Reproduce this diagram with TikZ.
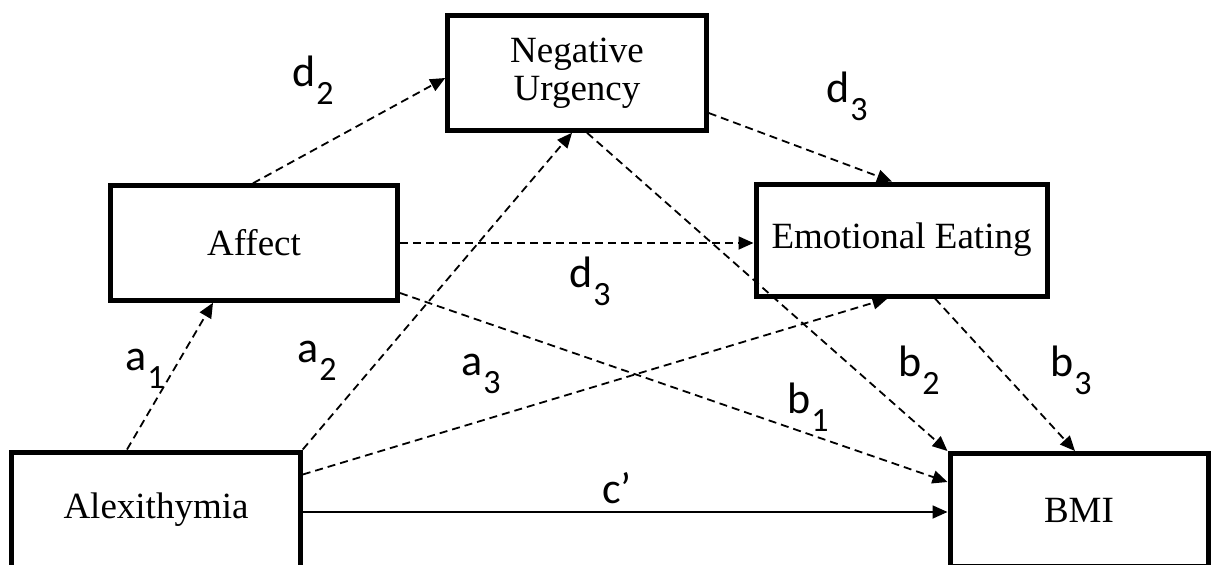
\documentclass[tikz,border=0pt]{standalone}
\usepackage{fontspec}
\setmainfont{Liberation Serif}
\newfontfamily\labfont{Carlito}
\usetikzlibrary{arrows.meta,calc}
\tikzset{
  box/.style={draw, line width=5pt, rectangle, inner sep=0pt, align=center,
    font=\fontsize{37}{38}\selectfont},
  conn/.style={line width=1.8pt, -{Triangle[length=15pt,width=13pt]}},
  dsh/.style={conn, dash pattern=on 8pt off 5pt},
  lab/.style={font=\labfont\fontsize{44}{44}\selectfont, anchor=base west, inner sep=0pt}
}
\newcommand{\sublab}[2]{#1\hspace{1pt}\raisebox{-18pt}{\fontsize{34}{34}\selectfont #2}}
\begin{document}
\begin{tikzpicture}[x=1pt,y=-1pt]
\useasboundingbox (0,0) rectangle (1211,565);
\clip (0,0) rectangle (1211,565);
% boxes
\node[box, minimum width=288.5pt, minimum height=116pt] (alex) at (156,510) {Alexithymia};
\node[box, minimum width=287pt, minimum height=114.5pt] (aff) at (254,243) {Affect};
\node[box, minimum width=258.5pt, minimum height=114.5pt] (nu) at (577,73) {Negative\\Urgency};
\node[box, minimum width=291pt, minimum height=112pt] (ee) at (901.5,240) {Emotional Eating};
\node[box, minimum width=258pt, minimum height=113pt] (bmi) at (1079,510) {BMI};
% connectors
\draw[dsh] ($(alex.north)+(-29,0)$) -- ($(aff.south)+(-41,0)$);
\draw[dsh] (alex.north east) -- ($(nu.south)+(-5,0)$);
\draw[dsh] ($(alex.north east)+(0,25)$) -- ($(ee.south)+(-14,0)$);
\draw[conn] ($(alex.east)+(0,2)$) -- ($(bmi.west)+(0,2)$);
\draw[dsh] ($(aff.north)+(-1,0)$) -- ($(nu.west)+(0,5)$);
\draw[dsh] (aff.east) -- (aff.east -| ee.west);
\draw[dsh] ($(aff.east)+(0,50)$) -- ($(bmi.west)+(0,-28)$);
\draw[dsh] ($(nu.south)+(10,0)$) -- (bmi.north west);
\draw[dsh] ($(nu.east)+(0,40)$) -- ($(ee.north)+(-9.5,0)$);
\draw[dsh] ($(ee.south)+(33.5,0)$) -- ($(bmi.north)+(-4,0)$);
% labels
\node[lab] (ld2) at (292,86) {\sublab{d}{2}};
\node[lab] (ld3a) at (826,102) {\sublab{d}{3}};
\node[lab] (ld3b) at (569,287) {\sublab{d}{3}};
\node[lab] (la1) at (125,370) {\sublab{a}{1}};
\node[lab] (la2) at (297,362) {\sublab{a}{2}};
\node[lab] (la3) at (461,375) {\sublab{a}{3}};
\node[lab] (lb1) at (787,413) {\sublab{b}{1}};
\node[lab] (lb2) at (898,376) {\sublab{b}{2}};
\node[lab] (lb3) at (1050,376) {\sublab{b}{3}};
\node[lab] (lc) at (602,503) {c’};
\end{tikzpicture}
\end{document}
